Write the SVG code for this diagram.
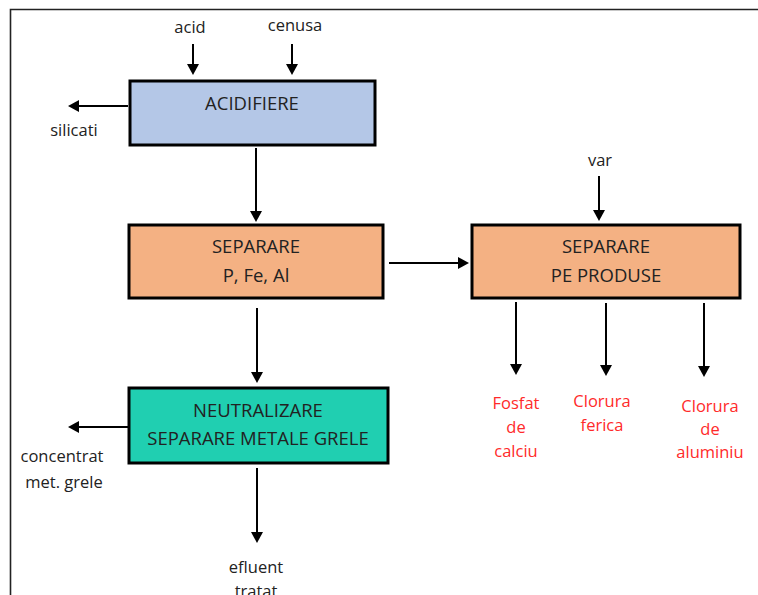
<svg xmlns="http://www.w3.org/2000/svg" width="758" height="595" viewBox="0 0 758 595">
<defs>
<marker id="ah" viewBox="0 0 11 12" refX="6" refY="6" markerWidth="11" markerHeight="12" markerUnits="userSpaceOnUse" orient="auto">
<path d="M0,0 L11,6 L0,12 z" fill="#000"/>
</marker>
<style>
.box{stroke:#000;stroke-width:3}
.bt{font-family:"Open Sans","Liberation Sans",sans-serif;font-size:18.5px;fill:#222;text-anchor:middle}
.lb{font-family:"Open Sans","Liberation Sans",sans-serif;font-size:16.5px;fill:#222;text-anchor:middle}
.rd{font-family:"Open Sans","Liberation Sans",sans-serif;font-size:16.5px;fill:#ff2a2a;text-anchor:middle}
.cn line{stroke:#000;stroke-width:2;marker-end:url(#ah)}
</style>
</defs>
<rect width="758" height="595" fill="#fff"/>
<path d="M10.5,595 V9.5 H758" fill="none" stroke="#222" stroke-width="1.6"/>

<g id="acidifiere">
<rect class="box" x="130" y="81" width="245" height="64" fill="#B4C7E7"/>
<text class="bt" x="252" y="110">ACIDIFIERE</text>
</g>
<g id="separare-pfeal">
<rect class="box" x="129" y="225" width="254" height="73" fill="#F4B183"/>
<text class="bt" x="256" y="253">SEPARARE</text>
<text class="bt" x="256" y="282">P, Fe, Al</text>
</g>
<g id="separare-produse">
<rect class="box" x="472" y="225" width="268" height="73" fill="#F4B183"/>
<text class="bt" x="606" y="253">SEPARARE</text>
<text class="bt" x="606" y="282">PE PRODUSE</text>
</g>
<g id="neutralizare">
<rect class="box" x="129" y="388" width="259" height="75" fill="#20CFB1"/>
<text class="bt" x="258" y="417">NEUTRALIZARE</text>
<text class="bt" x="258" y="445">SEPARARE METALE GRELE</text>
</g>

<g id="labels">
<text class="lb" x="190" y="33">acid</text>
<text class="lb" x="295" y="31">cenusa</text>
<text class="lb" x="74" y="136">silicati</text>
<text class="lb" x="600" y="166">var</text>
<text class="lb" x="62" y="462">concentrat</text>
<text class="lb" x="64" y="488">met. grele</text>
<text class="lb" x="256" y="573">efluent</text>
<text class="lb" x="256" y="597">tratat</text>
<text class="rd" x="516" y="409">Fosfat</text>
<text class="rd" x="516" y="433">de</text>
<text class="rd" x="516" y="457">calciu</text>
<text class="rd" x="602" y="407">Clorura</text>
<text class="rd" x="602" y="431">ferica</text>
<text class="rd" x="710" y="412">Clorura</text>
<text class="rd" x="710" y="435">de</text>
<text class="rd" x="710" y="458">aluminiu</text>
</g>

<g id="connectors" class="cn">
<line x1="193" y1="44" x2="193" y2="70"/>
<line x1="292" y1="44" x2="292" y2="70"/>
<line x1="128" y1="106" x2="73" y2="106"/>
<line x1="256" y1="148" x2="256" y2="217"/>
<line x1="257" y1="308" x2="257" y2="378"/>
<line x1="389" y1="263" x2="464" y2="263"/>
<line x1="599" y1="176" x2="599" y2="216"/>
<line x1="516" y1="302" x2="516" y2="370"/>
<line x1="606" y1="303" x2="606" y2="371"/>
<line x1="704" y1="303" x2="704" y2="372"/>
<line x1="128" y1="427" x2="73" y2="427"/>
<line x1="257" y1="468" x2="257" y2="538"/>
</g>
</svg>
